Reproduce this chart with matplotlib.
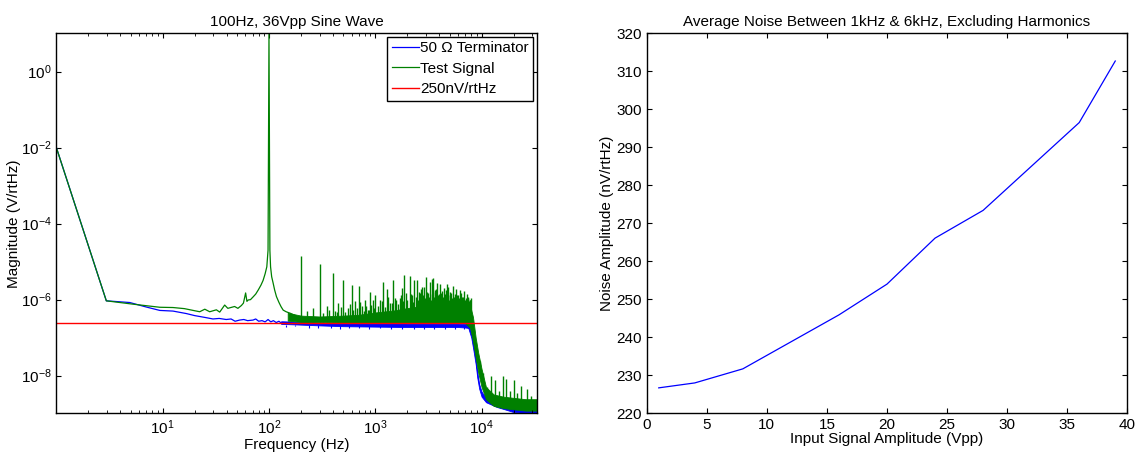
import numpy as np
import matplotlib
matplotlib.use("Agg")
import matplotlib.pyplot as plt

# ---------------- data: left panel (spectrum) ----------------
# Terminator (blue) low-frequency trace
blue_f = [1.0, 2.95, 4.9, 7.0, 9.4, 12.5, 16.7, 20.0, 22.3, 25.0, 29.7, 34.0, 39.6,
          44.0, 48.0, 53.0, 58.0, 63.0, 70.8, 75.0, 80.0, 86.0, 92.0, 98.0, 104.0,
          110.0, 117.0, 124.0, 131.0]
blue_m = [1.0e-2, 9.3e-7, 8.4e-7, 6.4e-7, 5.2e-7, 5.0e-7, 4.3e-7, 3.8e-7, 3.6e-7,
          3.4e-7, 3.1e-7, 3.2e-7, 3.0e-7, 3.1e-7, 2.7e-7, 2.9e-7, 3.0e-7, 2.8e-7,
          2.9e-7, 3.1e-7, 2.7e-7, 2.8e-7, 2.6e-7, 3.0e-7, 2.6e-7, 2.8e-7, 2.5e-7,
          2.7e-7, 2.4e-7]
# Terminator dense noise band (lower / upper envelope)
blue_band_f = [130, 200, 300, 500, 1000, 2000, 4000, 6000, 7000, 7500, 8000, 8400,
               8800, 9100, 9500, 10000, 11000, 13900, 16500, 20000, 26000, 33000]
blue_band_lo = [2.3e-7, 2.2e-7, 2.1e-7, 2.0e-7, 1.95e-7, 1.9e-7, 1.9e-7, 1.9e-7,
                1.85e-7, 1.8e-7, 1.0e-7, 4.5e-8, 2.0e-8, 9.0e-9, 4.5e-9, 2.8e-9,
                2.0e-9, 1.5e-9, 1.3e-9, 1.1e-9, 1.05e-9, 1.05e-9]
blue_band_hi = [2.7e-7, 2.6e-7, 2.5e-7, 2.45e-7, 2.4e-7, 2.35e-7, 2.35e-7, 2.35e-7,
                2.3e-7, 2.2e-7, 1.4e-7, 6.5e-8, 3.0e-8, 1.3e-8, 6.0e-9, 3.8e-9,
                2.6e-9, 2.0e-9, 1.8e-9, 1.6e-9, 1.5e-9, 1.5e-9]
# Terminator downward noise spikes
blue_dn_f = [145, 175, 240, 290, 380, 470, 560, 700, 880, 1100, 1400, 1800, 2300,
             2900, 3600, 4500, 5600, 6800]
blue_dn_m = [1.9e-7, 2.0e-7, 1.8e-7, 1.75e-7, 1.8e-7, 1.7e-7, 1.75e-7, 1.8e-7,
             1.7e-7, 1.75e-7, 1.7e-7, 1.65e-7, 1.7e-7, 1.65e-7, 1.7e-7, 1.65e-7,
             1.7e-7, 1.7e-7]
blue_dn_top = 2.1e-7

# Test signal (green) low-frequency trace incl. 100 Hz fundamental
green_f = [1.0, 2.95, 5.25, 9.4, 12.5, 16.0, 22.3, 24.9, 27.7, 32.0, 34.4, 38.3,
           41.0, 47.5, 51.0, 55.0, 57.5, 60.3, 62.0, 63.8, 67.0, 71.3, 75.0, 79.3,
           84.0, 88.0, 92.0, 95.4, 98.0, 100.0, 102.0, 103.5, 106.0, 109.5, 113.0,
           117.6, 124.0, 130.0, 136.0, 145.0, 158.0, 170.0, 182.0]
green_m = [1.0e-2, 9.3e-7, 7.6e-7, 6.3e-7, 6.2e-7, 5.8e-7, 4.8e-7, 5.6e-7, 4.8e-7,
           5.4e-7, 4.7e-7, 7.2e-7, 5.9e-7, 6.6e-7, 5.9e-7, 7.0e-7, 8.1e-7, 1.5e-6,
           9.0e-7, 9.8e-7, 1.0e-6, 1.2e-6, 1.4e-6, 1.8e-6, 2.4e-6, 3.2e-6, 4.8e-6,
           7.3e-6, 2.0e-5, 10.2, 2.0e-5, 7.3e-6, 4.0e-6, 2.7e-6, 1.8e-6, 1.2e-6,
           8.5e-7, 6.5e-7, 5.3e-7, 4.8e-7, 4.4e-7, 4.0e-7, 3.6e-7]
# Test signal dense noise band
green_band_f = [150, 200, 300, 500, 700, 1000, 1500, 2000, 3000, 4000, 5000, 6000,
                7000, 7800, 8300, 8800, 9300, 10000, 11000, 13000, 16000, 20000,
                26000, 33000]
green_band_lo = [2.8e-7, 2.6e-7, 2.55e-7, 2.5e-7, 2.5e-7, 2.5e-7, 2.5e-7, 2.45e-7,
                 2.45e-7, 2.45e-7, 2.45e-7, 2.45e-7, 2.4e-7, 1.8e-7, 8.0e-8, 3.0e-8,
                 1.2e-8, 5.0e-9, 2.4e-9, 1.6e-9, 1.4e-9, 1.3e-9, 1.2e-9, 1.2e-9]
green_band_hi = [4.5e-7, 3.8e-7, 3.6e-7, 3.8e-7, 4.0e-7, 4.6e-7, 5.2e-7, 6.0e-7,
                 7.0e-7, 8.0e-7, 8.5e-7, 8.5e-7, 8.0e-7, 7.0e-7, 3.5e-7, 1.0e-7,
                 4.0e-8, 1.5e-8, 5.0e-9, 3.2e-9, 2.8e-9, 2.6e-9, 2.4e-9, 2.4e-9]
# Test signal harmonics / noise spikes above the band
green_spk_f = [200, 300, 400, 500, 600, 700, 800, 900, 1000,
               230, 260, 350, 420, 450, 550, 650, 750, 850, 950,
               320, 370, 440, 480, 520, 580, 620, 680, 720, 780, 820, 880, 920, 980,
               1100, 1190, 1290, 1380, 1474, 1560, 1690, 1780, 1875, 1950, 2100,
               2200, 2320, 2460, 2580, 2680, 2780, 2870, 3000, 3150, 3300, 3400,
               3500, 3620, 3750, 3830, 3950, 4100, 4250, 4400, 4600, 4700, 4860,
               5000, 5200, 5400, 5600, 5800, 6000, 6200, 6400, 6650, 6900, 7100,
               7300, 7500, 7700, 7900,
               1050, 1150, 1240, 1330, 1430, 1520, 1620, 1730, 1830, 2000, 2150,
               2260, 2400, 2520, 2630, 2730, 2820, 2940, 3080, 3220, 3350, 3450,
               3560, 3680, 3900, 4020, 4170, 4320, 4500, 4780, 4930, 5100, 5300,
               5500, 5700, 5900, 6100, 6300, 6520, 6780, 7000, 7200, 7400, 7600,
               7800]
green_spk_m = [1.4e-5, 8.5e-6, 5.0e-6, 3.2e-6, 2.5e-6, 2.3e-6, 1.0e-6, 1.6e-6, 1.3e-6,
               5.0e-7, 6.0e-7, 7.0e-7, 5.0e-7, 8.0e-7, 6.0e-7, 9.0e-7, 7.0e-7, 5.5e-7,
               9.5e-7,
               4.5e-7, 5.5e-7, 4.8e-7, 6.5e-7, 4.6e-7, 7.5e-7, 5.2e-7, 6.0e-7, 8.5e-7,
               5.0e-7, 6.8e-7, 5.4e-7, 7.2e-7, 6.0e-7,
               1.0e-6, 3.0e-6, 1.9e-6, 8.0e-7, 3.2e-6, 1.0e-6, 1.1e-6, 2.0e-6, 4.4e-6,
               1.5e-6, 4.2e-6, 1.3e-6, 3.2e-6, 3.3e-6, 1.6e-6, 1.9e-6, 2.2e-6, 2.2e-6,
               4.0e-6, 1.5e-6, 2.9e-6, 3.4e-6, 3.6e-6, 1.8e-6, 1.9e-6, 2.7e-6, 1.4e-6,
               2.6e-6, 1.7e-6, 2.0e-6, 1.8e-6, 2.6e-6, 2.2e-6, 1.6e-6, 1.5e-6, 2.3e-6,
               1.4e-6, 1.9e-6, 1.3e-6, 1.8e-6, 1.5e-6, 1.2e-6, 1.7e-6, 1.1e-6, 1.4e-6,
               1.2e-6, 1.0e-6, 1.1e-6,
               7.0e-7, 9.0e-7, 6.5e-7, 1.2e-6, 8.0e-7, 1.1e-6, 7.5e-7, 1.3e-6, 9.0e-7,
               1.0e-6, 1.4e-6, 8.5e-7, 1.2e-6, 1.0e-6, 1.5e-6, 9.5e-7, 1.3e-6, 1.1e-6,
               1.6e-6, 1.2e-6, 1.0e-6, 1.4e-6, 1.2e-6, 1.6e-6, 1.3e-6, 1.1e-6, 1.5e-6,
               1.2e-6, 1.4e-6, 1.3e-6, 1.0e-6, 1.3e-6, 1.1e-6, 1.2e-6, 1.0e-6, 1.3e-6,
               1.1e-6, 1.0e-6, 1.2e-6, 9.5e-7, 1.0e-6, 9.0e-7, 1.1e-6, 9.0e-7, 9.5e-7]
green_spk_base = 2.6e-7
# spikes on the noise floor above the anti-alias roll-off
green_hf_f = [9600, 10300, 11200, 12300, 13400, 14500, 15800, 17000, 18500, 20000,
              21500, 23500, 26700, 29000]
green_hf_m = [2.5e-8, 1.2e-8, 5.0e-9, 1.0e-8, 7.8e-9, 4.0e-9, 1.0e-8, 8.0e-9, 4.0e-9,
              7.8e-9, 3.5e-9, 5.3e-9, 4.4e-9, 3.0e-9]
green_hf_base = [1.5e-8, 6.0e-9, 2.8e-9, 2.2e-9, 2.0e-9, 1.7e-9, 1.6e-9, 1.5e-9,
                 1.5e-9, 1.4e-9, 1.4e-9, 1.3e-9, 1.3e-9, 1.3e-9]

ref_level = 250e-9
left_xticks = [10, 100, 1000, 10000]
left_yticks = [1e-8, 1e-6, 1e-4, 1e-2, 1e0]

# ---------------- data: right panel ----------------
amp_vpp = [1, 4, 8, 16, 20, 24, 28, 36, 39]
noise_nv = [226.7, 228.0, 231.7, 245.9, 254.0, 266.1, 273.4, 296.5, 312.7]

# ---------------- style ----------------
plt.rcParams['font.family'] = ['Liberation Sans', 'DejaVu Sans']
plt.rcParams['mathtext.default'] = 'regular'
plt.rcParams['font.size'] = 11

BLUE = (0, 0, 1)
GREEN = (0, 0.5, 0)
RED = (1, 0, 0)

fig = plt.figure(figsize=(11.39, 4.54), dpi=100)
ax1 = fig.add_axes([0.0495, 0.0896, 0.4217, 0.8371])
ax2 = fig.add_axes([0.5678, 0.0896, 0.4219, 0.8371])

# ---- left panel ----
lw = 0.9
hb, = ax1.plot(blue_f, blue_m, color=BLUE, lw=lw, label='50 \u03a9 Terminator')
ax1.fill_between(blue_band_f, blue_band_lo, blue_band_hi, color=BLUE, lw=0.6)
ax1.vlines(blue_dn_f, blue_dn_m, blue_dn_top, color=BLUE, lw=0.8)

hg, = ax1.plot(green_f, green_m, color=GREEN, lw=lw, label='Test Signal')
ax1.fill_between(green_band_f, green_band_lo, green_band_hi, color=GREEN, lw=0.6)
ax1.vlines(green_spk_f, green_spk_base, green_spk_m, color=GREEN, lw=1.0)
ax1.vlines(green_hf_f, green_hf_base, green_hf_m, color=GREEN, lw=1.0)

hr = ax1.axhline(ref_level, color=RED, lw=1.0, label='250nV/rtHz')

ax1.set_xscale('log')
ax1.set_yscale('log')
ax1.set_xlim(1.0, 33000)
ax1.set_ylim(1.02e-9, 10.2)
ax1.set_xticks(left_xticks)
ax1.set_yticks(left_yticks)
ax1.yaxis.set_minor_locator(matplotlib.ticker.NullLocator())
ax1.xaxis.set_minor_locator(matplotlib.ticker.LogLocator(base=10, subs=np.arange(2, 10)))
ax1.xaxis.set_minor_formatter(matplotlib.ticker.NullFormatter())
ax1.set_title('100Hz, 36Vpp Sine Wave', fontsize=11, pad=5)
ax1.set_xlabel('Frequency (Hz)', labelpad=1)
ax1.set_ylabel('Magnitude (V/rtHz)', labelpad=0)
leg = ax1.legend(handles=[hb, hg, hr], loc='upper right', fancybox=False,
                 framealpha=1, edgecolor='black', borderaxespad=0.22,
                 handlelength=1.75, handletextpad=0.1, labelspacing=0.42,
                 borderpad=0.3, fontsize=11)
leg.get_frame().set_linewidth(1.0)

# ---- right panel ----
ax2.plot(amp_vpp, noise_nv, color=BLUE, lw=0.9)
ax2.set_xlim(0, 40)
ax2.set_ylim(220, 320)
ax2.set_xticks(np.arange(0, 41, 5))
ax2.set_yticks(np.arange(220, 321, 10))
ax2.set_title('Average Noise Between 1kHz & 6kHz, Excluding Harmonics', fontsize=11, pad=5)
ax2.set_xlabel('Input Signal Amplitude (Vpp)', labelpad=0)
ax2.set_ylabel('Noise Amplitude (nV/rtHz)', labelpad=2)

for ax in (ax1, ax2):
    ax.tick_params(which='both', direction='in', top=True, right=True, labelsize=11)
    ax.tick_params(which='major', length=3.5, width=0.8)
    ax.tick_params(which='minor', length=2, width=0.6)
    for s in ax.spines.values():
        s.set_linewidth(1.0)

fig.savefig('out.png', dpi=100)
